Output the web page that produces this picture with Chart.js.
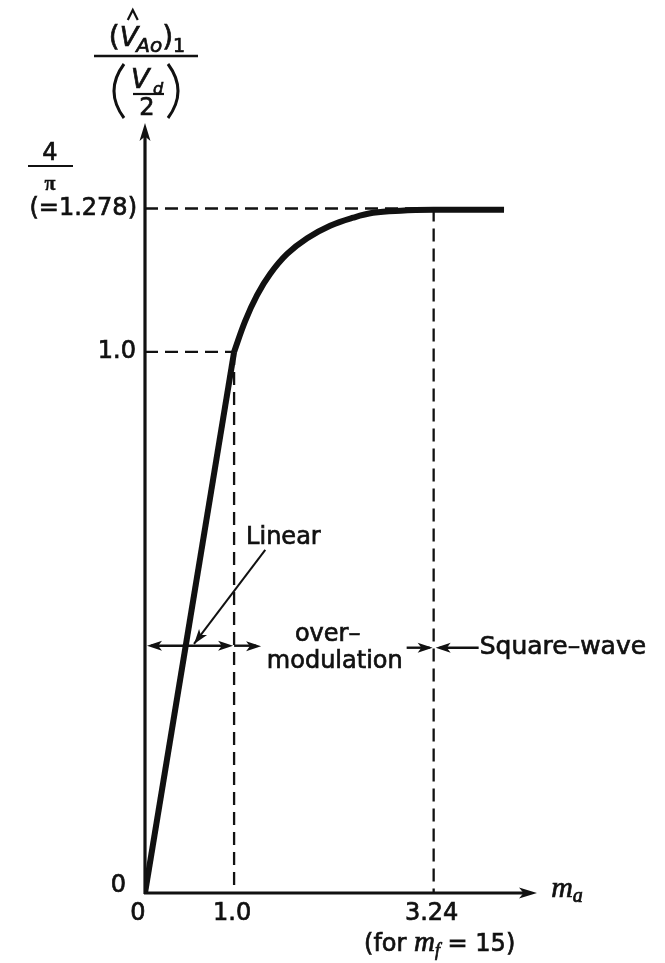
<!DOCTYPE html>
<html>
<head>
<meta charset="utf-8">
<script src="https://cdn.jsdelivr.net/npm/chart.js@4.4.0/dist/chart.umd.min.js"></script>
<style>
html,body{margin:0;padding:0;background:#fff;}
#wrap{width:665px;height:963px;}
</style>
</head>
<body>
<div id="wrap"><canvas id="c" width="665" height="963"></canvas></div>
<script>
// ---- data ----
const linearX = [0, 1.0];
const linearY = [0, 1.0];
const overX = [1.0, 1.124, 1.258, 1.404, 1.595, 1.82, 2.078, 2.336, 2.56, 2.87, 3.24, 4.03];
const overY = [1.0, 1.057, 1.105, 1.144, 1.181, 1.210, 1.233, 1.248, 1.257, 1.261, 1.2625, 1.2625];
const xTickValues = [0, 1.0, 3.24];
const xTickLabels = ["0", "1.0", "3.24"];
const yTickValues = [0, 1.0];
const yTickLabels = ["0", "1.0"];
const plateauValue = 1.265;          // 4/π level as drawn
const plateauLabel = "(=1.278)";
const squareWaveStart = 3.24;        // m_a where square-wave begins (m_f = 15)
const linearEnd = 1.0;

const toPts = (xs, ys) => xs.map((x, i) => ({x: x, y: ys[i]}));

const SANS = "'DejaVu Sans'";
const SERIF = "'Liberation Serif'";

function arrowHead(ctx, tx, ty, dir, len, half) {
  ctx.save();
  ctx.translate(tx, ty);
  ctx.rotate(dir);
  ctx.beginPath();
  ctx.moveTo(0, 0);
  ctx.lineTo(-len, -half);
  ctx.lineTo(-len * 0.75, 0);
  ctx.lineTo(-len, half);
  ctx.closePath();
  ctx.fill();
  ctx.restore();
}
function line(ctx, x1, y1, x2, y2, w, dash) {
  ctx.save();
  ctx.lineWidth = w;
  ctx.setLineDash(dash || []);
  ctx.beginPath();
  ctx.moveTo(x1, y1);
  ctx.lineTo(x2, y2);
  ctx.stroke();
  ctx.restore();
}
function txt(ctx, s, x, y, font, align, base, heavy) {
  ctx.font = font;
  ctx.textAlign = align || 'left';
  ctx.textBaseline = base || 'alphabetic';
  ctx.fillText(s, x, y);
  ctx.save();
  ctx.lineWidth = heavy === undefined ? 0.7 : heavy;
  if (ctx.lineWidth > 0) ctx.strokeText(s, x, y);
  ctx.restore();
}
function seq(ctx, parts, cx, by) {
  let w = 0;
  parts.forEach(p => { ctx.font = p[1]; w += ctx.measureText(p[0]).width + (p[3] || 0); });
  let x = cx - w / 2;
  const pos = [];
  parts.forEach(p => {
    pos.push(x);
    txt(ctx, p[0], x, by + p[2], p[1], 'left', 'alphabetic');
    ctx.font = p[1];
    x += ctx.measureText(p[0]).width + (p[3] || 0);
  });
  return pos;
}

const figurePlugin = {
  id: 'figure',
  beforeDatasetsDraw(chart) {
    const ctx = chart.ctx;
    const xs = chart.scales.x, ys = chart.scales.y;
    const X = v => xs.getPixelForValue(v), Y = v => ys.getPixelForValue(v);
    ctx.save();
    ctx.strokeStyle = '#111';
    ctx.fillStyle = '#111';
    const dash = [13, 7];
    line(ctx, X(0), Y(linearEnd), X(linearEnd), Y(linearEnd), 2.3, dash);
    line(ctx, X(0), Y(plateauValue), X(squareWaveStart), Y(plateauValue), 2.3, dash);
    line(ctx, X(linearEnd), Y(linearEnd), X(linearEnd), Y(0), 2.3, dash);
    line(ctx, X(squareWaveStart), Y(plateauValue), X(squareWaveStart), Y(0), 2.3, dash);
    ctx.restore();
  },
  afterDraw(chart) {
    const ctx = chart.ctx;
    const xs = chart.scales.x, ys = chart.scales.y;
    const X = v => xs.getPixelForValue(v), Y = v => ys.getPixelForValue(v);
    const ca = chart.chartArea;
    ctx.save();
    ctx.strokeStyle = '#111';
    ctx.fillStyle = '#111';

    // axes with arrows
    line(ctx, X(0), Y(0) + 1, X(0), ca.top + 10, 3.2);
    arrowHead(ctx, X(0), ca.top, -Math.PI / 2, 18, 5.5);
    line(ctx, X(0) - 1, Y(0), ca.right - 10, Y(0), 3.2);
    arrowHead(ctx, ca.right, Y(0), 0, 18, 5.5);

    // x tick labels
    xTickValues.forEach((v, i) => {
      txt(ctx, xTickLabels[i], X(v) + (v === 0 ? -7 : -2), Y(0) + 21, '24px ' + SANS, 'center', 'middle');
    });
    // y tick labels
    yTickValues.forEach((v, i) => {
      const dx = v === 0 ? 19 : 9, dy = v === 0 ? -7 : 0;
      txt(ctx, yTickLabels[i], X(0) - dx, Y(v) + dy, '24px ' + SANS, 'right', 'middle');
    });
    // 4/π label
    txt(ctx, plateauLabel, X(0) - 8, Y(plateauValue), '24px ' + SANS, 'right', 'middle');
    txt(ctx, '4', 50, 154, '24px ' + SANS, 'center', 'middle');
    line(ctx, 28, 166, 73, 166, 2.2);
    txt(ctx, 'π', 50, 185, 'bold 20px ' + SERIF, 'center', 'middle', 0.4);

    // x-axis title m_a
    seq(ctx, [
      ['m', 'italic 30px ' + SERIF, 0],
      ['a', 'italic 20px ' + SERIF, 5]
    ], ca.right + 30, Y(0) + 4);

    // (for m_f = 15)
    seq(ctx, [
      ['(for ', '24px ' + SANS, 0],
      ['m', 'italic 29px ' + SERIF, 0],
      ['f', 'italic 18px ' + SERIF, 5],
      [' = 15)', '24px ' + SANS, 0]
    ], X(squareWaveStart) + 6, Y(0) + 58);

    // y-axis title: (V̂_Ao)_1 / (V_d / 2)
    {
      const pos = seq(ctx, [
        ['(', '28px ' + SANS, 0],
        ['V', 'italic 27px ' + SANS, 0, -2],
        ['Ao', 'italic 20px ' + SANS, 6],
        [')', '28px ' + SANS, 0],
        ['1', '19px ' + SANS, 6]
      ], 147, 46);
      const vx = pos[1];
      ctx.save();
      ctx.lineWidth = 2.2;
      ctx.beginPath();
      ctx.moveTo(vx + 8, 20); ctx.lineTo(vx + 13, 10); ctx.lineTo(vx + 18, 20);
      ctx.stroke();
      ctx.restore();
      line(ctx, 94, 56, 198, 56, 2.4);
      // denominator parentheses
      ctx.save();
      ctx.lineWidth = 3;
      ctx.beginPath();
      ctx.moveTo(124, 64); ctx.quadraticCurveTo(104, 91, 124, 118);
      ctx.moveTo(168, 64); ctx.quadraticCurveTo(188, 91, 168, 118);
      ctx.stroke();
      ctx.restore();
      txt(ctx, 'V', 131, 88, 'italic 27px ' + SANS, 'left', 'alphabetic');
      txt(ctx, 'd', 153, 94, 'italic 16px ' + SANS, 'left', 'alphabetic');
      line(ctx, 133, 94, 164, 94, 2.2);
      txt(ctx, '2', 147, 109, '24px ' + SANS, 'center', 'middle');
    }

    // region arrows
    const rowY = Y(0.457);
    line(ctx, X(0) + 6, rowY, X(linearEnd) - 6, rowY, 2.4);
    arrowHead(ctx, X(0) + 2, rowY, Math.PI, 15, 5);
    arrowHead(ctx, X(linearEnd) - 1, rowY, 0, 15, 5);
    line(ctx, X(linearEnd), rowY, X(linearEnd) + 22, rowY, 2.4);
    arrowHead(ctx, X(linearEnd) + 27, rowY + 0.5, 0, 15, 5);
    line(ctx, X(squareWaveStart) - 27, rowY + 2, X(squareWaveStart) - 4, rowY + 2, 2.4);
    arrowHead(ctx, X(squareWaveStart) - 1, rowY + 2, 0, 15, 5);
    line(ctx, X(squareWaveStart) + 6, rowY + 2, X(squareWaveStart) + 45, rowY + 2, 2.4);
    arrowHead(ctx, X(squareWaveStart) + 2, rowY + 2, Math.PI, 15, 5);

    // region labels
    txt(ctx, 'Linear', X(1.135), Y(0.656), '24px ' + SANS, 'left', 'middle');
    txt(ctx, 'over–', X(2.05), Y(0.478), '24px ' + SANS, 'center', 'middle');
    txt(ctx, 'modulation', X(2.13), Y(0.427), '24px ' + SANS, 'center', 'middle');
    txt(ctx, 'Square–wave', X(squareWaveStart) + 46, rowY + 2, '25px ' + SANS, 'left', 'middle');

    // pointer from "Linear"
    const p1x = X(1.35), p1y = Y(0.634), p2x = X(0.55), p2y = Y(0.4566) - 2;
    line(ctx, p1x, p1y, p2x, p2y, 2);
    arrowHead(ctx, p2x, p2y, Math.atan2(p2y - p1y, p2x - p1x), 15, 5);

    ctx.restore();
  }
};

new Chart(document.getElementById('c'), {
  type: 'line',
  data: {
    datasets: [
      {
        label: 'Linear',
        data: toPts(linearX, linearY),
        borderColor: '#111',
        borderWidth: 6,
        pointRadius: 0,
        tension: 0,
        fill: false
      },
      {
        label: 'Over-modulation / Square-wave',
        data: toPts(overX, overY),
        borderColor: '#111',
        borderWidth: 6,
        pointRadius: 0,
        tension: 0.4,
        fill: false
      }
    ]
  },
  options: {
    responsive: false,
    animation: false,
    devicePixelRatio: 1,
    layout: { padding: { left: 145, right: 128, top: 123, bottom: 70 } },
    plugins: { legend: { display: false }, tooltip: { enabled: false } },
    scales: {
      x: { type: 'linear', min: 0, max: 4.40, display: false },
      y: { type: 'linear', min: 0, max: 1.423, display: false }
    }
  },
  plugins: [figurePlugin]
});
</script>
</body>
</html>
